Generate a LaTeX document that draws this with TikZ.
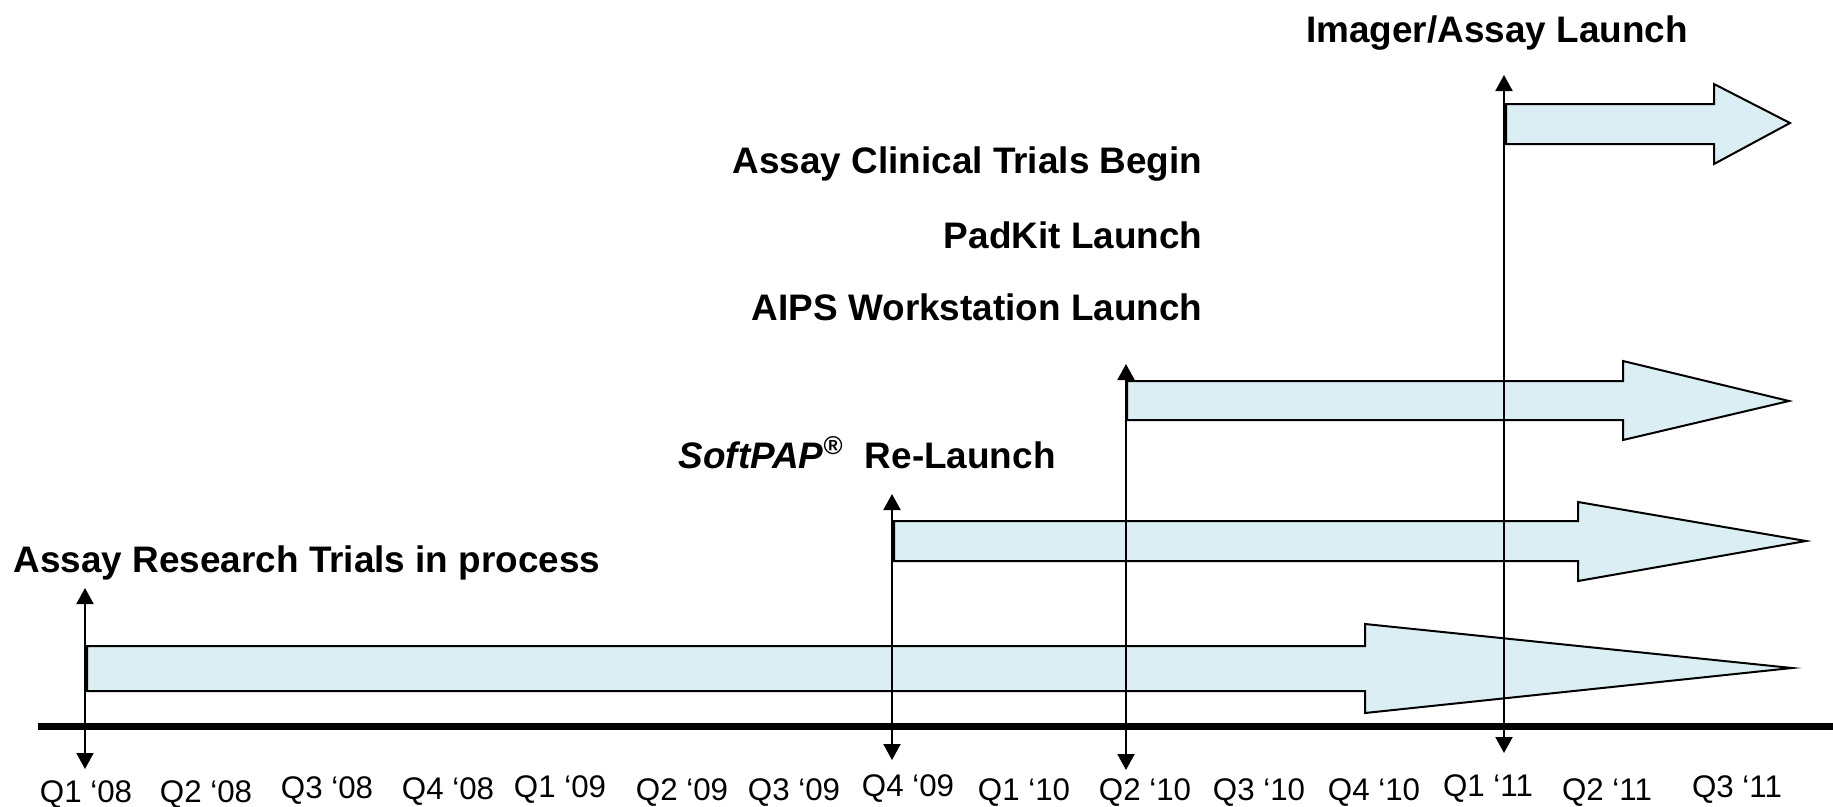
\documentclass[tikz,border=0pt]{standalone}
\usepackage{fontspec}
\setmainfont{Liberation Sans}
\usetikzlibrary{arrows.meta}
\definecolor{barfill}{RGB}{219,238,243}

\begin{document}
\begin{tikzpicture}[x=0.1mm, y=-0.1mm]
    \tikzstyle{lbl}      = [font=\fontsize{10.5pt}{12pt}\selectfont\bfseries, inner sep=0pt]
    \tikzstyle{qtr}      = [font=\fontsize{8.9pt}{10pt}\selectfont, inner sep=0pt, anchor=base]
    \tikzstyle{bar}      = [draw=black, line width=0.2mm, fill=barfill, line join=miter]
    \tikzstyle{dateline} = [line width=0.2mm, {Triangle[width=1.7mm,length=1.6mm]}-{Triangle[width=1.7mm,length=1.6mm]}]
    \tikzstyle{axisline} = [line width=0.7mm]
    \useasboundingbox (0,0) rectangle (1833,807);

    % time axis
    \coordinate (ax1) at (38,726);
    \coordinate (ax2) at (1833,726);
    \draw[axisline] (ax1) -- (ax2);
    \foreach \x/\y/\t [count=\i] in {86/802/Q1 ‘08, 206/802/Q2 ‘08, 327/798/Q3 ‘08, 448/799/Q4 ‘08,
        560/797/Q1 ‘09, 682/800/Q2 ‘09, 794/800/Q3 ‘09, 908/796/Q4 ‘09, 1024/800/Q1 ‘10,
        1145/800/Q2 ‘10, 1259/800/Q3 ‘10, 1374/800/Q4 ‘10, 1488/796/Q1 ‘11, 1607/800/Q2 ‘11, 1737/797/Q3 ‘11}
        \node[qtr] (q\i) at (\x,\y) {\t};

    % block arrows
    \draw[bar] (87,646) -- (1365,646) -- (1365,624) -- (1792,668) -- (1365,713) -- (1365,691) -- (87,691) -- cycle;
    \draw[bar] (894,521) -- (1578,521) -- (1578,502) -- (1806,541) -- (1578,581) -- (1578,561) -- (894,561) -- cycle;
    \draw[bar] (1127,381) -- (1623,381) -- (1623,361) -- (1789,401) -- (1623,440) -- (1623,420) -- (1127,420) -- cycle;
    \draw[bar] (1506,104) -- (1714,104) -- (1714,84) -- (1790,123) -- (1714,164) -- (1714,144) -- (1506,144) -- cycle;

    % date markers
    \coordinate (a1) at (85,588);   \coordinate (a2) at (85,769);
    \coordinate (b1) at (892,494);  \coordinate (b2) at (892,760);
    \coordinate (c1) at (1126,364); \coordinate (c2) at (1126,770);
    \coordinate (d1) at (1504,75);  \coordinate (d2) at (1504,753);
    \draw[dateline] (a2) -- (a1);
    \draw[dateline] (b2) -- (b1);
    \draw[dateline] (c2) -- (c1);
    \draw[dateline] (d2) -- (d1);

    % milestones
    \node (research) [lbl, anchor=base west] at (13,572) {Assay Research Trials in process};
    \node (softpap) [lbl, anchor=base west] at (678,468) {\textit{SoftPAP}\textsuperscript{®}\ \ Re-Launch};
    \node (aips) [lbl, anchor=base east] at (1203,320) {AIPS Workstation Launch};
    \node (padkit) [lbl, anchor=base east] at (1203,248) {PadKit Launch};
    \node (clinical) [lbl, anchor=base east] at (1203,173) {Assay Clinical Trials Begin};
    \node (imager) [lbl, anchor=base] at (1497,42) {Imager/Assay Launch};
\end{tikzpicture}
\end{document}
